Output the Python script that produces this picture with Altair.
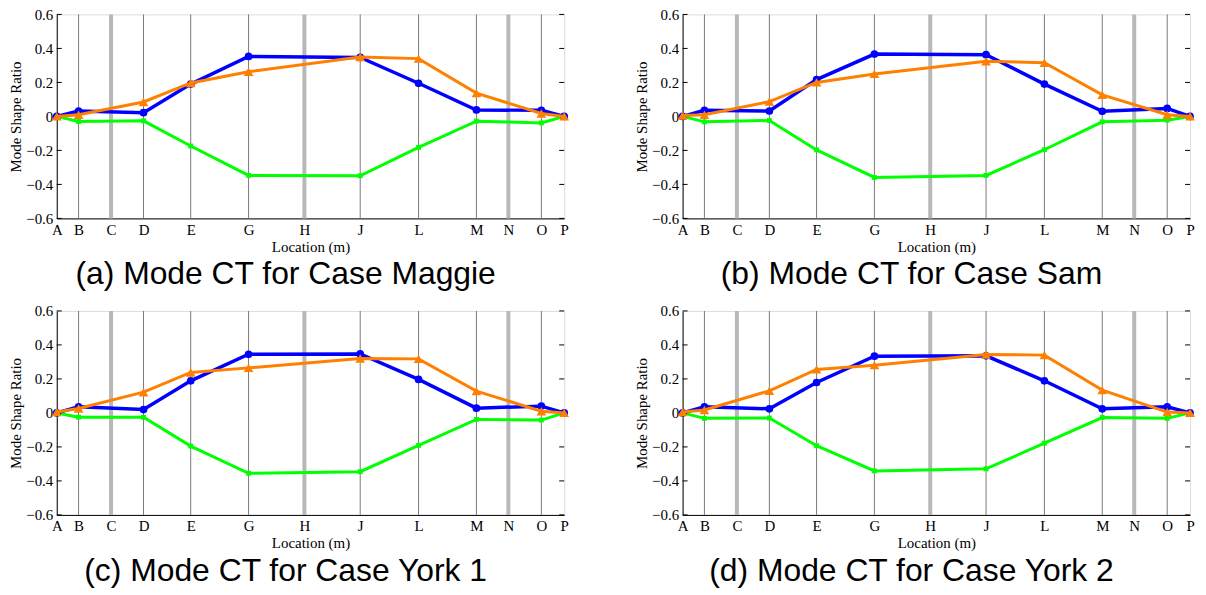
import altair as alt
import pandas as pd

# ---- data ----
letters = ["A", "B", "C", "D", "E", "G", "H", "J", "L", "M", "N", "O", "P"]
positions = [0, 4.3, 10.7, 17.1, 26.4, 37.8, 48.8, 59.8, 71.3, 82.7, 89.0, 95.5, 100]
sensor_letters = ["A", "B", "D", "E", "G", "J", "L", "M", "O", "P"]
grid_letters = ["B", "D", "E", "G", "J", "L", "M", "O"]
pier_letters = ["C", "H", "N"]
y_ticks = [-0.6, -0.4, -0.2, 0, 0.2, 0.4, 0.6]

captions = [
    "(a) Mode CT for Case Maggie",
    "(b) Mode CT for Case Sam",
    "(c) Mode CT for Case York 1",
    "(d) Mode CT for Case York 2",
]

# values at sensor_letters
blue_maggie = [0, 0.032, 0.022, 0.19, 0.353, 0.347, 0.195, 0.038, 0.036, 0]
orange_maggie = [0, 0.01, 0.085, 0.197, 0.263, 0.35, 0.34, 0.137, 0.017, 0]
green_maggie = [0, -0.03, -0.026, -0.174, -0.347, -0.349, -0.182, -0.028, -0.038, 0]

blue_sam = [0, 0.036, 0.032, 0.217, 0.367, 0.363, 0.19, 0.03, 0.047, 0]
orange_sam = [0.005, 0.01, 0.087, 0.2, 0.25, 0.324, 0.316, 0.127, 0.01, 0]
green_sam = [0, -0.032, -0.024, -0.197, -0.359, -0.347, -0.196, -0.032, -0.022, 0]

blue_york1 = [0, 0.036, 0.02, 0.189, 0.345, 0.347, 0.197, 0.028, 0.04, 0]
orange_york1 = [0.005, 0.026, 0.122, 0.238, 0.265, 0.32, 0.318, 0.128, 0.01, 0]
green_york1 = [0, -0.025, -0.026, -0.195, -0.355, -0.346, -0.191, -0.038, -0.042, 0]

blue_york2 = [0, 0.036, 0.024, 0.179, 0.334, 0.336, 0.189, 0.024, 0.036, 0]
orange_york2 = [0.005, 0.017, 0.13, 0.256, 0.281, 0.344, 0.34, 0.134, 0.005, 0]
green_york2 = [0, -0.032, -0.03, -0.193, -0.341, -0.329, -0.178, -0.027, -0.032, 0]

cases = [
    (blue_maggie, orange_maggie, green_maggie),
    (blue_sam, orange_sam, green_sam),
    (blue_york1, orange_york1, green_york1),
    (blue_york2, orange_york2, green_york2),
]

pos_of = dict(zip(letters, positions))
sensor_x = [pos_of[l] for l in sensor_letters]

W, H = 510, 205
SERIF = "Liberation Serif"

label_expr = "[" + ",".join("'%s'" % l for l in letters) + "][indexof([" + \
    ",".join(str(p) for p in positions) + "], datum.value)]"

x_scale = alt.Scale(domain=[0, 100], nice=False, zero=False)
y_scale = alt.Scale(domain=[-0.6, 0.6], nice=False)

x_axis = alt.Axis(values=positions, labelExpr=label_expr, title="Location (m)",
                  grid=False, tickSize=0, labelPadding=4, titlePadding=2,
                  labelFont=SERIF, titleFont=SERIF, labelFontSize=15, titleFontSize=15,
                  titleFontWeight="normal", labelColor="black", titleColor="black",
                  domainColor="black", labelFlush=False)
y_axis = alt.Axis(values=y_ticks,
                  labelExpr="datum.value == 0 ? '0' : format(datum.value, '.1f')",
                  title="Mode Shape Ratio", grid=False, tickSize=0, labelPadding=4,
                  minExtent=0, labelFont=SERIF, titleFont=SERIF,
                  labelFontSize=15, titleFontSize=15, titleFontWeight="normal",
                  labelColor="black", titleColor="black", domainColor="black",
                  labelFlush=False, titleX=-41, titleY=H / 2, titleAngle=270,
                  titleAlign="center", titleBaseline="middle")


def xenc():
    return alt.X("x:Q", scale=x_scale, axis=x_axis)


def yenc():
    return alt.Y("v:Q", scale=y_scale, axis=y_axis)


def panel(idx):
    blue, orange, green = cases[idx]
    grid_df = pd.DataFrame({"x": [pos_of[l] for l in grid_letters]})
    pier_df = pd.DataFrame({"x": [pos_of[l] for l in pier_letters]})
    tick_df = pd.DataFrame({"v": y_ticks})
    thin = alt.Chart(grid_df).mark_rule(color="#7a7a7a", strokeWidth=1).encode(x=xenc())
    thick = alt.Chart(pier_df).mark_rule(color="#b8b8b8", strokeWidth=4).encode(x=xenc())
    # MATLAB-style inward tick marks on the left and right frame edges
    lticks = alt.Chart(tick_df).mark_rule(color="black", strokeWidth=1).encode(
        y=yenc(), x=alt.value(0), x2=alt.value(5))
    rticks = alt.Chart(tick_df).mark_rule(color="black", strokeWidth=1).encode(
        y=yenc(), x=alt.value(W - 5), x2=alt.value(W))

    def series(vals, color, shape, size, width):
        df = pd.DataFrame({"x": sensor_x, "v": vals})
        return alt.Chart(df).mark_line(
            color=color, strokeWidth=width,
            point=alt.OverlayMarkDef(shape=shape, size=size, filled=True, color=color),
        ).encode(x=xenc(), y=yenc())

    g = series(green, "#00ff00", "square", 24, 3)
    b = series(blue, "#0000ff", "circle", 60, 3.5)
    o = series(orange, "#ff8000", "triangle-up", 95, 3)

    return alt.layer(thin, thick, lticks, rticks, g, b, o).properties(
        width=W, height=H,
        title=alt.TitleParams(captions[idx], orient="bottom", anchor="middle",
                              font="Liberation Sans", fontSize=32, fontWeight="normal",
                              color="black", offset=5, dx=-25),
    )


chart = alt.concat(panel(0), panel(1), panel(2), panel(3), columns=2,
                   spacing={"row": 93, "column": 119}, bounds="flush").properties(
    padding={"left": 0, "top": -3, "right": 0, "bottom": 0}
).configure_view(stroke="black", strokeWidth=1).configure(background="white")

chart.save("out.html", embed_options={"renderer": "svg", "actions": False})
